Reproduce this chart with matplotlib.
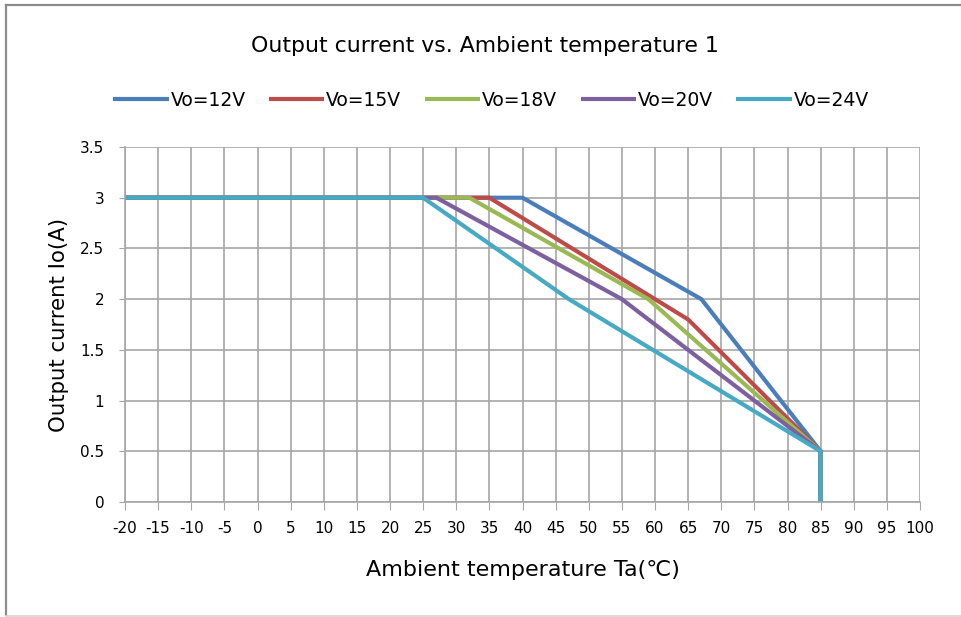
import matplotlib
matplotlib.use("Agg")
import matplotlib.pyplot as plt
from matplotlib.lines import Line2D

plt.rcParams['font.family'] = ['DejaVu Sans', 'Noto Sans CJK JP']

series_names = ["Vo=12V", "Vo=15V", "Vo=18V", "Vo=20V", "Vo=24V"]
x_12 = [-20, 40, 67, 85, 85]
y_12 = [3, 3, 2, 0.5, 0]
x_15 = [-20, 35, 65, 85, 85]
y_15 = [3, 3, 1.8, 0.5, 0]
x_18 = [-20, 32, 59, 85, 85]
y_18 = [3, 3, 2, 0.5, 0]
x_20 = [-20, 27, 55, 85, 85]
y_20 = [3, 3, 2, 0.5, 0]
x_24 = [-20, 25, 47, 85, 85]
y_24 = [3, 3, 2, 0.5, 0]
colors = ["#4a7ebb", "#be4b48", "#98b954", "#7d60a0", "#46aac5"]

xticks = list(range(-20, 101, 5))
yticks = [0, 0.5, 1, 1.5, 2, 2.5, 3, 3.5]
ytick_labels = ["0", "0.5", "1", "1.5", "2", "2.5", "3", "3.5"]

fig = plt.figure(figsize=(9.61, 6.17), dpi=100)
ax = fig.add_axes([125/961, 1-502/617, 795/961, 355/617])

for xs, ys, c, n in zip([x_12, x_15, x_18, x_20, x_24], [y_12, y_15, y_18, y_20, y_24], colors, series_names):
    ax.plot(xs, ys, color=c, lw=3.0, label=n, solid_joinstyle='miter', solid_capstyle='butt')

ax.set_xlim(-20, 100)
ax.set_ylim(0, 3.5)
ax.set_xticks(xticks)
ax.set_xticklabels([str(t) for t in xticks], fontsize=11)
ax.set_yticks(yticks)
ax.set_yticklabels(ytick_labels, fontsize=11)
ax.grid(True, color="#a6a6a6", lw=1.2)
ax.set_axisbelow(True)
for s in ["top", "right"]:
    ax.spines[s].set_visible(False)
ax.spines["left"].set_color("#a6a6a6")
ax.spines["bottom"].set_color("#a6a6a6")
ax.spines["left"].set_linewidth(1.2)
ax.spines["bottom"].set_linewidth(1.2)
ax.tick_params(axis='x', direction='out', length=6, color="#a6a6a6", pad=8)
ax.tick_params(axis='y', direction='out', length=4, color="#a6a6a6", pad=11)

ax.set_xlabel("Ambient temperature Ta(℃)", fontsize=16, labelpad=17)
ax.set_ylabel("Output current Io(A)", fontsize=15.3, labelpad=8)
fig.text(485/961, 1-46/617, "Output current vs. Ambient temperature 1", fontsize=15.8, ha='center', va='center')

leg = fig.legend(loc='center', bbox_to_anchor=(491/961, 1-100/617), ncol=5, frameon=False,
                 fontsize=13.5, handlelength=2.95, handletextpad=0.1, columnspacing=1.25)

# outer chart border: top and left dark, bottom light
fig.lines.append(Line2D([5.5/961, 5.5/961], [1-5/617, 1-615/617], transform=fig.transFigure, color="#8c8c8c", lw=1.6))
fig.lines.append(Line2D([5.5/961, 1.0], [1-5/617, 1-5/617], transform=fig.transFigure, color="#8c8c8c", lw=1.6))
fig.lines.append(Line2D([5.5/961, 1.0], [1-615.5/617, 1-615.5/617], transform=fig.transFigure, color="#d4d4d4", lw=1.2))

fig.savefig("out.png", dpi=100)
